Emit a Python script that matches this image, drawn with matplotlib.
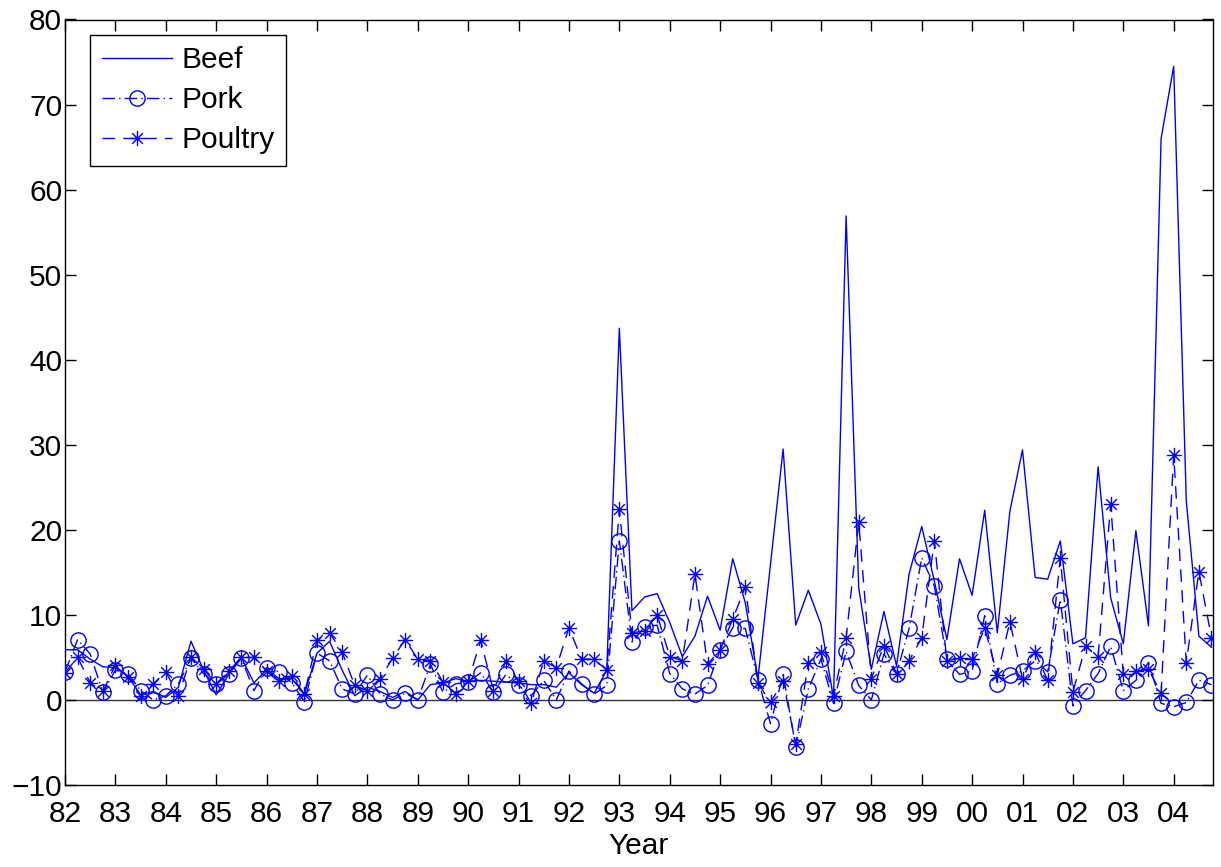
import matplotlib
matplotlib.use("Agg")
import matplotlib.pyplot as plt
from matplotlib.path import Path
import numpy as np

start_year = 1982
beef = [5.9, 5.9, 4.8, 3.9,
        3.8, 2.8, 0.6, 1.0,
        0.3, 1.5, 6.9, 3.5,
        0.6, 3.0, 5.0, 2.0,
        3.6, 2.5, 2.5, 0.7,
        5.5, 6.9, 3.5, 0.5,
        1.5, 1.0, 0.3, 1.0,
        0.0, 1.8, 2.0, 2.5,
        2.2, 2.3, 2.2, 2.1,
        2.0, 1.8, 1.8, 1.5,
        3.2, 1.8, 0.8, 3.5,
        43.7, 10.5, 12.1, 12.5,
        9.1, 5.1, 7.5, 12.2,
        8.2, 16.6, 11.4, 2.5,
        16.0, 29.5, 8.8, 12.9,
        8.9, 0.2, 56.9, 13.2,
        3.6, 10.4, 4.0, 14.8,
        20.4, 14.0, 7.1, 16.6,
        12.3, 22.3, 7.9, 22.2,
        29.4, 14.4, 14.2, 18.7,
        6.6, 7.3, 27.4, 12.0,
        6.6, 19.9, 8.7, 66.0,
        74.5, 23.4, 7.5, 6.2]
pork = [3.3, 7.1, 5.4, 0.9,
        3.5, 3.1, 1.1, 0.0,
        0.5, 1.9, 4.9, 3.1,
        1.9, 3.0, 4.9, 1.1,
        3.8, 3.3, 2.0, -0.2,
        5.5, 4.6, 1.3, 0.7,
        2.9, 0.7, 0.0, 0.8,
        0.0, 4.2, 0.9, 1.9,
        2.1, 3.2, 0.9, 3.0,
        1.7, 0.5, 2.3, 0.0,
        3.4, 1.9, 0.7, 1.7,
        18.7, 6.8, 8.6, 8.8,
        3.1, 1.3, 0.7, 1.7,
        5.9, 8.5, 8.4, 2.4,
        -2.8, 3.0, -5.5, 1.3,
        4.8, -0.4, 5.7, 1.7,
        0.0, 5.4, 3.1, 8.4,
        16.7, 13.4, 4.8, 3.0,
        3.4, 9.9, 1.9, 2.9,
        3.4, 4.6, 3.3, 11.8,
        -0.7, 1.1, 3.1, 6.3,
        1.1, 2.3, 4.4, -0.4,
        -0.8, -0.3, 2.3, 1.8]
poultry = [3.2, 5.0, 2.0, 1.0,
           4.1, 2.7, 0.5, 1.9,
           3.3, 0.5, 5.0, 3.6,
           1.9, 3.4, 5.0, 5.0,
           3.4, 2.2, 2.8, 0.7,
           7.0, 7.9, 5.6, 1.7,
           1.1, 2.5, 4.9, 7.1,
           4.8, 4.6, 2.1, 0.7,
           2.2, 7.0, 1.1, 4.6,
           2.2, -0.4, 4.6, 3.8,
           8.5, 4.8, 4.8, 3.5,
           22.4, 7.9, 8.1, 10.0,
           5.1, 4.6, 14.8, 4.2,
           5.9, 9.5, 13.3, 2.0,
           -0.3, 2.2, -5.2, 4.4,
           5.6, 0.5, 7.3, 20.9,
           2.5, 6.4, 3.1, 4.6,
           7.3, 18.7, 4.6, 4.9,
           4.8, 8.5, 2.9, 9.2,
           2.5, 5.6, 2.3, 16.7,
           0.9, 6.3, 5.1, 23.0,
           3.0, 3.4, 3.6, 0.8,
           28.8, 4.4, 15.1, 7.3]
years = list(range(1982, 2005))
year_labels = [f"{y % 100:02d}" for y in years]
y_ticks = list(range(-10, 81, 10))

plt.rcParams['font.family'] = ['Liberation Sans', 'DejaVu Sans']

# MATLAB-like asterisk marker (lines only)
d = 0.7
ast_verts = [(-1, 0), (1, 0), (0, -1), (0, 1),
             (-d, -d), (d, d), (-d, d), (d, -d)]
ast_codes = [Path.MOVETO, Path.LINETO] * 4
asterisk = Path(ast_verts, ast_codes)

t = start_year + np.arange(len(beef)) / 4.0

fig = plt.figure(figsize=(12.21, 8.67), dpi=100)
ax = fig.add_axes([65/1221, 1-785/867, (1213-65)/1221, (785-19.5)/867])

blue = (0, 0, 1)
ax.axhline(0, color='#333333', lw=1.0, zorder=1)
ax.plot(t, beef, '-', color=blue, lw=1.0, label='Beef', zorder=3)
ax.plot(t, pork, linestyle=(0, (9, 3, 1, 3)), color=blue, lw=1.0, marker='o',
        markersize=11, fillstyle='none', markeredgewidth=1.0, label='Pork', zorder=3)
ax.plot(t, poultry, linestyle=(0, (9, 6)), color=blue, lw=1.0, marker=asterisk,
        markersize=11, fillstyle='none', markeredgewidth=1.0, label='Poultry', zorder=3)

ax.set_xlim(1982, 2004.78)
ax.set_ylim(-10, 80)
ax.set_xticks(years)
ax.set_xticklabels(year_labels)
ax.set_yticks(y_ticks)
ax.tick_params(direction='in', length=8, width=1, top=True, right=True,
               labelsize=21.5)
ax.tick_params(axis='x', pad=11)
ax.tick_params(axis='y', pad=2)
for s in ax.spines.values():
    s.set_linewidth(1.0)
ax.set_xlabel('Year', fontsize=21.5, labelpad=3)

leg = ax.legend(loc='upper left', bbox_to_anchor=(25/1148, 1-15/765.5),
                fontsize=21.5, frameon=True, fancybox=False, framealpha=1,
                edgecolor='black', handlelength=2.35, borderpad=0.4,
                labelspacing=0.4, handletextpad=0.3, borderaxespad=0)
leg.get_frame().set_linewidth(1.0)

fig.savefig('out.png', dpi=100)
